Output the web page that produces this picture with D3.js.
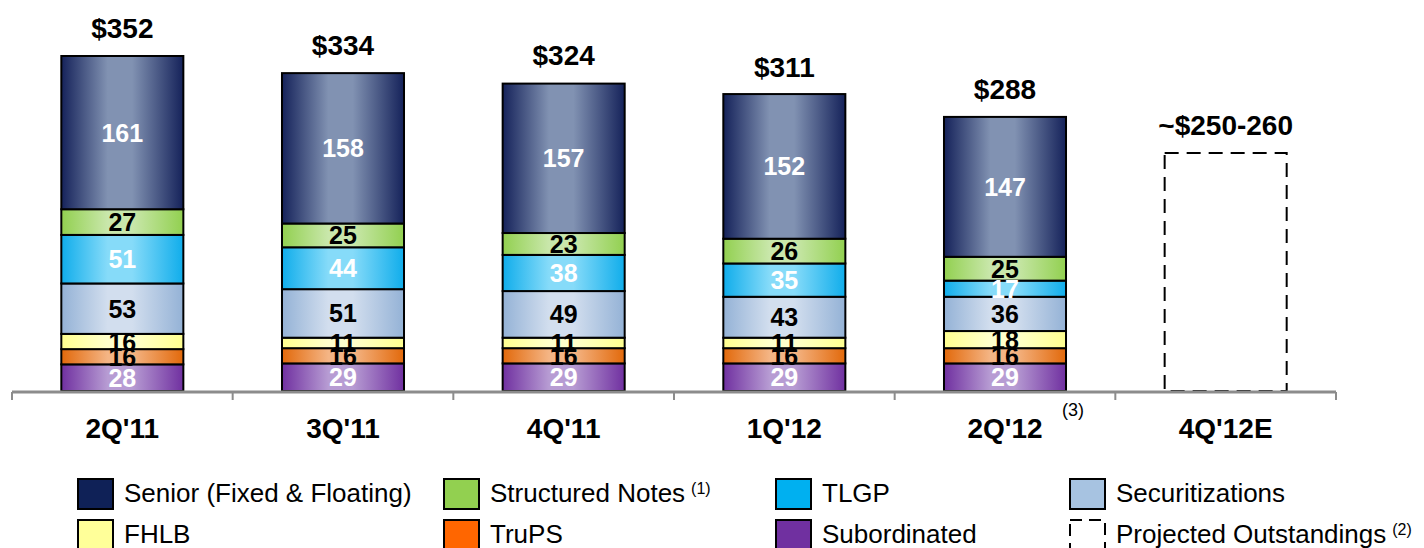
<!DOCTYPE html>
<html>
<head>
<meta charset="utf-8">
<script src="https://cdn.jsdelivr.net/npm/d3@7"></script>
<style>
  html, body { margin: 0; padding: 0; background: #fff; }
  svg { display: block; font-family: "Liberation Sans", Arial, sans-serif; }
</style>
</head>
<body>
<svg id="chart" width="1424" height="548"></svg>
<script>
// Quarterly long-term debt outstanding ($bn), stacked by funding type
const categories = ["2Q'11", "3Q'11", "4Q'11", "1Q'12", "2Q'12", "4Q'12E"];
const actualQuarters = ["2Q'11", "3Q'11", "4Q'11", "1Q'12", "2Q'12"];

const subordinated     = [28, 29, 29, 29, 29];
const trups            = [16, 16, 16, 16, 16];
const fhlb             = [16, 11, 11, 11, 18];
const securitizations  = [53, 51, 49, 43, 36];
const tlgp             = [51, 44, 38, 35, 17];
const structuredNotes  = [27, 25, 23, 26, 25];
const senior           = [161, 158, 157, 152, 147];

const totals = [352, 334, 324, 311, 288];
const totalLabels = ["$352", "$334", "$324", "$311", "$288"];

const projectedQuarter = "4Q'12E";
const projectedLow = 250;
const projectedHigh = 260;
const projectedLabel = "~$250-260";

// series stacked bottom to top
const seriesDefs = [
  { key: "subordinated",    name: "Subordinated",               values: subordinated,    edge: "#7030a0", mid: "#b79cd3", text: "#fff" },
  { key: "trups",           name: "TruPS",                      values: trups,           edge: "#e2690b", mid: "#f4b585", text: "#000" },
  { key: "fhlb",            name: "FHLB",                       values: fhlb,            edge: "#ffff8f", mid: "#ffffcc", text: "#000" },
  { key: "securitizations", name: "Securitizations",            values: securitizations, edge: "#94b2d6", mid: "#d2deee", text: "#000" },
  { key: "tlgp",            name: "TLGP",                       values: tlgp,            edge: "#10adeb", mid: "#86dbf9", text: "#fff" },
  { key: "structured",      name: "Structured Notes",           values: structuredNotes, edge: "#92d050", mid: "#c9e7ab", text: "#000" },
  { key: "senior",          name: "Senior (Fixed & Floating)",  values: senior,          edge: "#15225a", mid: "#8192b2", text: "#fff" }
];

const rows = actualQuarters.map((q, i) => {
  const r = { quarter: q };
  seriesDefs.forEach(s => { r[s.key] = s.values[i]; });
  return r;
});

const svg = d3.select("#chart");
const defs = svg.append("defs");

const x = d3.scaleBand()
  .domain(categories)
  .range([12, 1336])
  .paddingInner(0.447)
  .paddingOuter(0.2235);

const y = d3.scaleLinear().domain([0, 352]).range([391, 56]);

// horizontal shading for each series
seriesDefs.forEach(s => {
  const g = defs.append("linearGradient")
    .attr("id", "grad-" + s.key)
    .attr("x1", "0%").attr("x2", "100%").attr("y1", "0%").attr("y2", "0%");
  g.append("stop").attr("offset", "0%").attr("stop-color", s.edge);
  g.append("stop").attr("offset", "38%").attr("stop-color", s.mid);
  g.append("stop").attr("offset", "58%").attr("stop-color", s.mid);
  g.append("stop").attr("offset", "100%").attr("stop-color", s.edge);
});

const stack = d3.stack().keys(seriesDefs.map(s => s.key));
const stacked = stack(rows);

const layers = svg.append("g").selectAll("g")
  .data(stacked)
  .join("g")
  .attr("fill", (d, i) => `url(#grad-${seriesDefs[i].key})`);

layers.selectAll("rect")
  .data(d => d)
  .join("rect")
  .attr("x", d => x(d.data.quarter))
  .attr("width", x.bandwidth())
  .attr("y", d => y(d[1]))
  .attr("height", d => y(d[0]) - y(d[1]))
  .attr("stroke", "#000")
  .attr("stroke-width", 2);

// segment value labels
stacked.forEach((layer, i) => {
  const s = seriesDefs[i];
  svg.append("g").selectAll("text")
    .data(layer)
    .join("text")
    .attr("x", d => x(d.data.quarter) + x.bandwidth() / 2)
    .attr("y", d => (y(d[0]) + y(d[1])) / 2 + 9)
    .attr("text-anchor", "middle")
    .attr("font-size", 25)
    .attr("font-weight", "bold")
    .attr("fill", s.text)
    .text(d => d[1] - d[0]);
});

// totals above each stack
const tops = stacked[stacked.length - 1];
svg.append("g").selectAll("text")
  .data(tops)
  .join("text")
  .attr("x", d => x(d.data.quarter) + x.bandwidth() / 2)
  .attr("y", (d, i) => y(totals[i]) - 18)
  .attr("text-anchor", "middle")
  .attr("font-size", 28)
  .attr("font-weight", "bold")
  .attr("fill", "#000")
  .text((d, i) => totalLabels[i]);

// projected outstandings: dashed outline
svg.append("rect")
  .attr("x", x(projectedQuarter))
  .attr("width", x.bandwidth())
  .attr("y", y(projectedLow))
  .attr("height", y(0) - y(projectedLow))
  .attr("fill", "none")
  .attr("stroke", "#000")
  .attr("stroke-width", 2)
  .attr("stroke-dasharray", "14,8");

svg.append("text")
  .attr("x", x(projectedQuarter) + x.bandwidth() / 2)
  .attr("y", y(projectedLow) - 18)
  .attr("text-anchor", "middle")
  .attr("font-size", 28)
  .attr("font-weight", "bold")
  .text(projectedLabel);

// category axis
const axisG = svg.append("g");
const [r0, r1] = x.range();
const step = x.step();
axisG.append("line")
  .attr("x1", r0).attr("x2", r1)
  .attr("y1", 392).attr("y2", 392)
  .attr("stroke", "#8c8c8c").attr("stroke-width", 3);
axisG.selectAll("line.tick")
  .data(d3.range(categories.length + 1))
  .join("line")
  .attr("class", "tick")
  .attr("x1", i => r0 + i * step).attr("x2", i => r0 + i * step)
  .attr("y1", 392).attr("y2", 400)
  .attr("stroke", "#8c8c8c").attr("stroke-width", 2);
axisG.selectAll("text.cat")
  .data(categories)
  .join("text")
  .attr("class", "cat")
  .attr("x", d => x(d) + x.bandwidth() / 2)
  .attr("y", 438)
  .attr("text-anchor", "middle")
  .attr("font-size", 28)
  .attr("font-weight", "bold")
  .text(d => d);

// footnote marker on 2Q'12
svg.append("text")
  .attr("x", x("2Q'12") + x.bandwidth() / 2 + 57)
  .attr("y", 416)
  .attr("font-size", 18)
  .text("(3)");

// legend
const legendItems = [
  { name: "Senior (Fixed & Floating)", color: "#0f2157", col: 0, row: 0 },
  { name: "Structured Notes", note: "(1)", color: "#92d050", col: 1, row: 0 },
  { name: "TLGP", color: "#00b0f0", col: 2, row: 0 },
  { name: "Securitizations", color: "#a7c3e1", col: 3, row: 0 },
  { name: "FHLB", color: "#ffff99", col: 0, row: 1 },
  { name: "TruPS", color: "#ff6600", col: 1, row: 1 },
  { name: "Subordinated", color: "#7030a0", col: 2, row: 1 },
  { name: "Projected Outstandings", note: "(2)", color: null, col: 3, row: 1 }
];
const colX = [78, 444, 776, 1070];
const rowY = [479, 520];

const legend = svg.append("g");
legendItems.forEach(it => {
  const g = legend.append("g").attr("transform", `translate(${colX[it.col]},${rowY[it.row]})`);
  const sw = g.append("rect")
    .attr("x", 0).attr("y", 0)
    .attr("width", 35).attr("height", 30)
    .attr("stroke", "#000").attr("stroke-width", 2);
  if (it.color) {
    sw.attr("fill", it.color);
  } else {
    sw.attr("fill", "none").attr("stroke-dasharray", "12,7");
  }
  const t = g.append("text")
    .attr("x", 46).attr("y", 23)
    .attr("font-size", 26)
    .attr("fill", "#000")
    .text(it.name);
  if (it.note) {
    t.append("tspan")
      .attr("dx", 6)
      .attr("dy", -8)
      .attr("font-size", 16)
      .text(it.note);
  }
});
</script>
</body>
</html>
